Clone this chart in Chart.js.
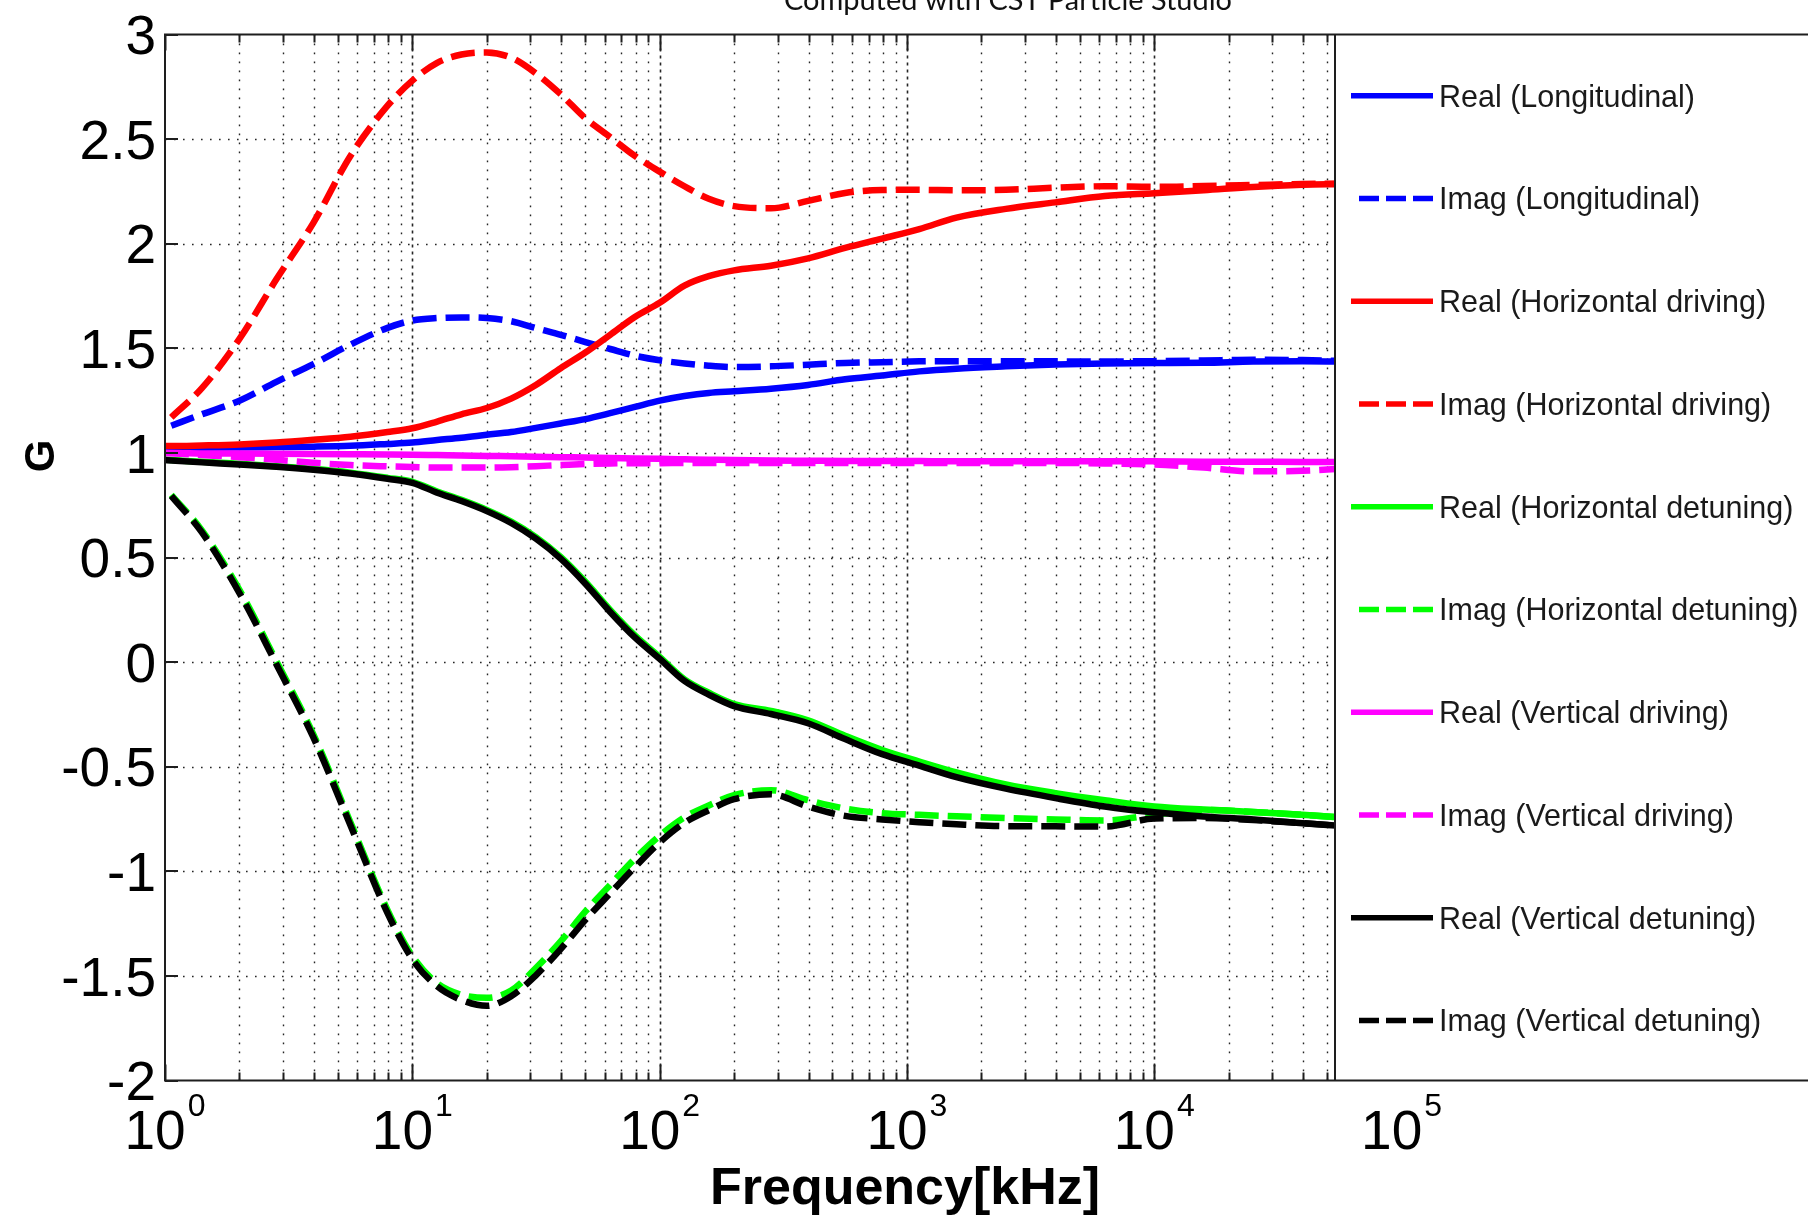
<!DOCTYPE html>
<html>
<head>
<meta charset="utf-8">
<script src="https://cdn.jsdelivr.net/npm/chart.js@4.4.0/dist/chart.umd.min.js"></script>
<style>
html,body{margin:0;padding:0;background:#ffffff;overflow:hidden;}
canvas{display:block;}
</style>
</head>
<body>
<canvas id="c" width="1808" height="1218"></canvas>
<script>
// ---------------- data ----------------
const freqKHz = [1, 1.06, 1.41, 2.0, 2.82, 3.98, 5.62, 7.94, 10, 12.6, 15.8, 20.0, 25.1, 31.6, 39.8, 50.1, 63.1, 79.4, 100, 126, 158, 200, 282, 398, 562, 794, 1122, 1585, 2512, 3981, 6310, 10000, 15849, 25119, 39811, 56234];

const realLongitudinal = [1.025, 1.025, 1.025, 1.026, 1.028, 1.030, 1.034, 1.043, 1.050, 1.062, 1.073, 1.087, 1.100, 1.120, 1.141, 1.162, 1.190, 1.220, 1.250, 1.272, 1.287, 1.295, 1.307, 1.325, 1.352, 1.370, 1.390, 1.403, 1.414, 1.423, 1.428, 1.430, 1.431, 1.437, 1.438, 1.437];
const imagLongitudinal = [null, 1.130, 1.185, 1.250, 1.340, 1.425, 1.518, 1.598, 1.633, 1.645, 1.648, 1.645, 1.630, 1.597, 1.565, 1.530, 1.497, 1.465, 1.443, 1.428, 1.417, 1.411, 1.414, 1.422, 1.430, 1.434, 1.438, 1.439, 1.439, 1.438, 1.437, 1.439, 1.442, 1.446, 1.444, 1.440];
const realHorizontalDriving = [1.033, 1.033, 1.036, 1.041, 1.050, 1.063, 1.078, 1.100, 1.118, 1.150, 1.185, 1.215, 1.260, 1.325, 1.405, 1.480, 1.565, 1.650, 1.718, 1.800, 1.845, 1.873, 1.895, 1.930, 1.980, 2.025, 2.070, 2.125, 2.167, 2.198, 2.228, 2.242, 2.256, 2.272, 2.282, 2.285];
const imagHorizontalDriving = [null, 1.170, 1.310, 1.545, 1.830, 2.100, 2.420, 2.660, 2.780, 2.865, 2.905, 2.915, 2.890, 2.815, 2.715, 2.600, 2.510, 2.420, 2.345, 2.275, 2.215, 2.180, 2.170, 2.205, 2.243, 2.257, 2.258, 2.256, 2.258, 2.268, 2.275, 2.272, 2.276, 2.281, 2.286, 2.288];
const realHorizontalDetuning = [0.968, 0.966, 0.958, 0.948, 0.937, 0.924, 0.906, 0.881, 0.862, 0.816, 0.776, 0.728, 0.672, 0.598, 0.503, 0.384, 0.250, 0.128, 0.025, -0.082, -0.146, -0.200, -0.233, -0.278, -0.352, -0.420, -0.475, -0.527, -0.585, -0.626, -0.660, -0.690, -0.705, -0.716, -0.730, -0.742];
const imagHorizontalDetuning = [null, 0.800, 0.630, 0.345, 0.005, -0.345, -0.765, -1.185, -1.405, -1.535, -1.590, -1.605, -1.570, -1.462, -1.335, -1.192, -1.065, -0.940, -0.830, -0.742, -0.685, -0.636, -0.612, -0.660, -0.700, -0.722, -0.730, -0.737, -0.745, -0.752, -0.757, -0.730, -0.707, -0.716, -0.730, -0.742];
const realVerticalDriving = [1.000, 1.000, 0.998, 0.997, 0.996, 0.995, 0.994, 0.993, 0.992, 0.990, 0.988, 0.986, 0.984, 0.982, 0.980, 0.978, 0.976, 0.974, 0.972, 0.970, 0.968, 0.966, 0.964, 0.963, 0.962, 0.962, 0.961, 0.960, 0.960, 0.960, 0.960, 0.960, 0.958, 0.958, 0.957, 0.957];
const imagVerticalDriving = [1.000, 0.998, 0.990, 0.980, 0.967, 0.953, 0.942, 0.936, 0.933, 0.930, 0.930, 0.930, 0.932, 0.937, 0.942, 0.947, 0.950, 0.951, 0.951, 0.952, 0.952, 0.952, 0.952, 0.952, 0.952, 0.952, 0.952, 0.952, 0.952, 0.952, 0.950, 0.945, 0.930, 0.912, 0.915, 0.925];
const realVerticalDetuning = [0.966, 0.964, 0.955, 0.945, 0.934, 0.920, 0.902, 0.877, 0.857, 0.810, 0.770, 0.722, 0.665, 0.590, 0.495, 0.375, 0.240, 0.118, 0.016, -0.090, -0.155, -0.210, -0.248, -0.292, -0.368, -0.440, -0.495, -0.550, -0.605, -0.650, -0.690, -0.718, -0.738, -0.752, -0.770, -0.782];
const imagVerticalDetuning = [null, 0.795, 0.620, 0.330, -0.010, -0.360, -0.780, -1.200, -1.420, -1.550, -1.615, -1.643, -1.597, -1.497, -1.372, -1.232, -1.105, -0.980, -0.862, -0.768, -0.708, -0.655, -0.632, -0.690, -0.735, -0.752, -0.765, -0.775, -0.784, -0.785, -0.786, -0.748, -0.745, -0.755, -0.770, -0.782];

const seriesNames = ['Real (Longitudinal)', 'Imag (Longitudinal)', 'Real (Horizontal driving)', 'Imag (Horizontal driving)', 'Real (Horizontal detuning)', 'Imag (Horizontal detuning)', 'Real (Vertical driving)', 'Imag (Vertical driving)', 'Real (Vertical detuning)', 'Imag (Vertical detuning)'];
const seriesValues = [realLongitudinal, imagLongitudinal, realHorizontalDriving, imagHorizontalDriving, realHorizontalDetuning, imagHorizontalDetuning, realVerticalDriving, imagVerticalDriving, realVerticalDetuning, imagVerticalDetuning];

const yTickValues = [3, 2.5, 2, 1.5, 1, 0.5, 0, -0.5, -1, -1.5, -2];
const yTickLabels = ['3', '2.5', '2', '1.5', '1', '0.5', '0', '-0.5', '-1', '-1.5', '-2'];
const xDecadeValues = [1, 10, 100, 1000, 10000, 100000];
const xDecadeExponents = ['0', '1', '2', '3', '4', '5'];

const titleText = 'Computed with CST Particle Studio';
const xAxisTitle = 'Frequency[kHz]';
const yAxisTitle = 'G';

// ---------------- styles ----------------
const seriesColors = ['#0000ff', '#0000ff', '#ff0000', '#ff0000', '#00ff00', '#00ff00', '#ff00ff', '#ff00ff', '#000000', '#000000'];
const seriesDashed = [false, true, false, true, false, true, false, true, false, true];
const AX = '#1e1e1e';
const SANS = '"Liberation Sans", Arial, sans-serif';
const LEGEND_LEFT = 1335;

const datasets = seriesNames.map((name, i) => ({
  label: name,
  data: freqKHz.map((f, j) => ({x: f, y: seriesValues[i][j]})).filter(p => p.y !== null),
  borderColor: seriesColors[i],
  backgroundColor: seriesColors[i],
  borderWidth: 6.5,
  borderDash: seriesDashed[i] ? [24, 9] : [],
  borderCapStyle: 'butt',
  borderJoinStyle: 'round',
  pointRadius: 0,
  fill: false,
  cubicInterpolationMode: 'monotone',
  order: 10 - i
}));

function dottedLine(ctx, x1, y1, x2, y2, dash, width) {
  ctx.save();
  ctx.strokeStyle = '#262626';
  ctx.lineWidth = width;
  ctx.setLineDash(dash);
  ctx.beginPath();
  ctx.moveTo(x1, y1);
  ctx.lineTo(x2, y2);
  ctx.stroke();
  ctx.restore();
}

const matlabLook = {
  id: 'matlabLook',
  beforeDatasetsDraw(chart) {
    const {ctx, chartArea: a, scales: {x, y}} = chart;
    for (let d = 0; d <= 6; d++) {
      for (let m = 1; m <= 9; m++) {
        const v = m * Math.pow(10, d);
        if (v > x.max) break;
        const px = Math.round(x.getPixelForValue(v)) + 0.5;
        if (px <= a.left + 1 || px > LEGEND_LEFT) continue;
        if (m === 1) dottedLine(ctx, px, a.top, px, a.bottom, [3, 4], 1.6);
        else dottedLine(ctx, px, a.top, px, a.bottom, [1.6, 7.4], 1.4);
      }
    }
    yTickValues.forEach(v => {
      const py = Math.round(y.getPixelForValue(v)) + 0.5;
      if (py <= a.top + 1 || py >= a.bottom - 1) return;
      dottedLine(ctx, a.left, py, LEGEND_LEFT, py, [1.6, 7.4], 1.4);
    });
  },
  afterDatasetsDraw(chart) {
    const {ctx, chartArea: a, scales: {x, y}} = chart;
    ctx.save();
    ctx.strokeStyle = AX;
    ctx.lineWidth = 2;
    ctx.setLineDash([]);
    for (let d = 0; d <= 6; d++) {
      for (let m = 1; m <= 9; m++) {
        const v = m * Math.pow(10, d);
        if (v > x.max) break;
        const px = Math.round(x.getPixelForValue(v)) + 0.5;
        const len = m === 1 ? 16 : 8;
        ctx.beginPath();
        ctx.moveTo(px, a.bottom); ctx.lineTo(px, a.bottom - len);
        ctx.moveTo(px, a.top); ctx.lineTo(px, a.top + len);
        ctx.stroke();
      }
    }
    yTickValues.forEach(v => {
      const py = Math.round(y.getPixelForValue(v));
      ctx.beginPath();
      ctx.moveTo(a.left, py); ctx.lineTo(a.left + 13, py);
      ctx.stroke();
    });
    // legend box (covers the right part of the axes)
    ctx.fillStyle = '#ffffff';
    ctx.fillRect(LEGEND_LEFT, a.top, 1808 - LEGEND_LEFT + 10, a.bottom - a.top);
    // axes border
    ctx.strokeStyle = AX;
    ctx.lineWidth = 2;
    ctx.beginPath();
    ctx.moveTo(a.left, a.top); ctx.lineTo(1810, a.top);
    ctx.moveTo(a.left, a.bottom); ctx.lineTo(1810, a.bottom);
    ctx.moveTo(a.left, a.top - 1); ctx.lineTo(a.left, a.bottom + 1);
    ctx.moveTo(LEGEND_LEFT, a.top); ctx.lineTo(LEGEND_LEFT, a.bottom);
    ctx.stroke();
    // legend entries
    const rowY0 = 95.7, rowStep = 102.75;
    seriesNames.forEach((name, i) => {
      const ry = rowY0 + rowStep * i;
      ctx.strokeStyle = seriesColors[i];
      ctx.lineWidth = 5.5;
      ctx.lineCap = 'butt';
      if (seriesDashed[i]) {
        ctx.setLineDash([20, 7]);
        ctx.beginPath(); ctx.moveTo(1359, ry); ctx.lineTo(1433, ry); ctx.stroke();
      } else {
        ctx.setLineDash([]);
        ctx.beginPath(); ctx.moveTo(1351, ry); ctx.lineTo(1433, ry); ctx.stroke();
      }
      ctx.setLineDash([]);
      ctx.fillStyle = '#1a1a1a';
      ctx.font = '30.5px ' + SANS;
      ctx.textAlign = 'left';
      ctx.textBaseline = 'alphabetic';
      ctx.fillText(name, 1439, ry + 11);
    });
    // y tick labels
    ctx.fillStyle = '#000000';
    ctx.font = '55px ' + SANS;
    ctx.textAlign = 'right';
    ctx.textBaseline = 'alphabetic';
    yTickValues.forEach((v, i) => {
      const py = y.getPixelForValue(v);
      ctx.fillText(yTickLabels[i], 156, py + 19.7);
    });
    // x tick labels 10^n
    xDecadeValues.forEach((v, i) => {
      const px = x.getPixelForValue(v);
      ctx.font = '55px ' + SANS;
      const w1 = ctx.measureText('10').width;
      ctx.font = '32px ' + SANS;
      const w2 = ctx.measureText(xDecadeExponents[i]).width;
      const start = px - (w1 + 2 + w2) / 2;
      ctx.textAlign = 'left';
      ctx.font = '55px ' + SANS;
      ctx.fillText('10', start, 1149);
      ctx.font = '32px ' + SANS;
      ctx.fillText(xDecadeExponents[i], start + w1 + 2, 1116);
    });
    // axis titles
    ctx.font = 'bold 52px ' + SANS;
    ctx.textAlign = 'center';
    ctx.fillText(xAxisTitle, 905, 1204);
    ctx.save();
    ctx.translate(42, 456);
    ctx.rotate(-Math.PI / 2);
    ctx.font = 'bold 42px ' + SANS;
    ctx.textAlign = 'center';
    ctx.textBaseline = 'middle';
    ctx.fillText(yAxisTitle, 0, 0);
    ctx.restore();
    // title (partially cut at the top edge)
    ctx.font = '28px Lato, "Open Sans", sans-serif';
    const tw = ctx.measureText(titleText).width;
    const size = 28 * 448 / tw;
    ctx.font = size.toFixed(2) + 'px Lato, "Open Sans", sans-serif';
    ctx.fillStyle = '#111111';
    ctx.textAlign = 'center';
    ctx.textBaseline = 'alphabetic';
    ctx.fillText(titleText, 1008, 10);
    ctx.restore();
  }
};

new Chart(document.getElementById('c'), {
  type: 'line',
  data: {datasets},
  options: {
    responsive: false,
    animation: false,
    devicePixelRatio: 1,
    events: [],
    layout: {padding: {left: 165, top: 34.6, right: 0, bottom: 137.5}},
    plugins: {legend: {display: false}, tooltip: {enabled: false}, title: {display: false}},
    scales: {
      x: {type: 'logarithmic', min: 1, max: 4.4e6, display: false},
      y: {type: 'linear', min: -2, max: 3, display: false}
    }
  },
  plugins: [matlabLook]
});
</script>
</body>
</html>
